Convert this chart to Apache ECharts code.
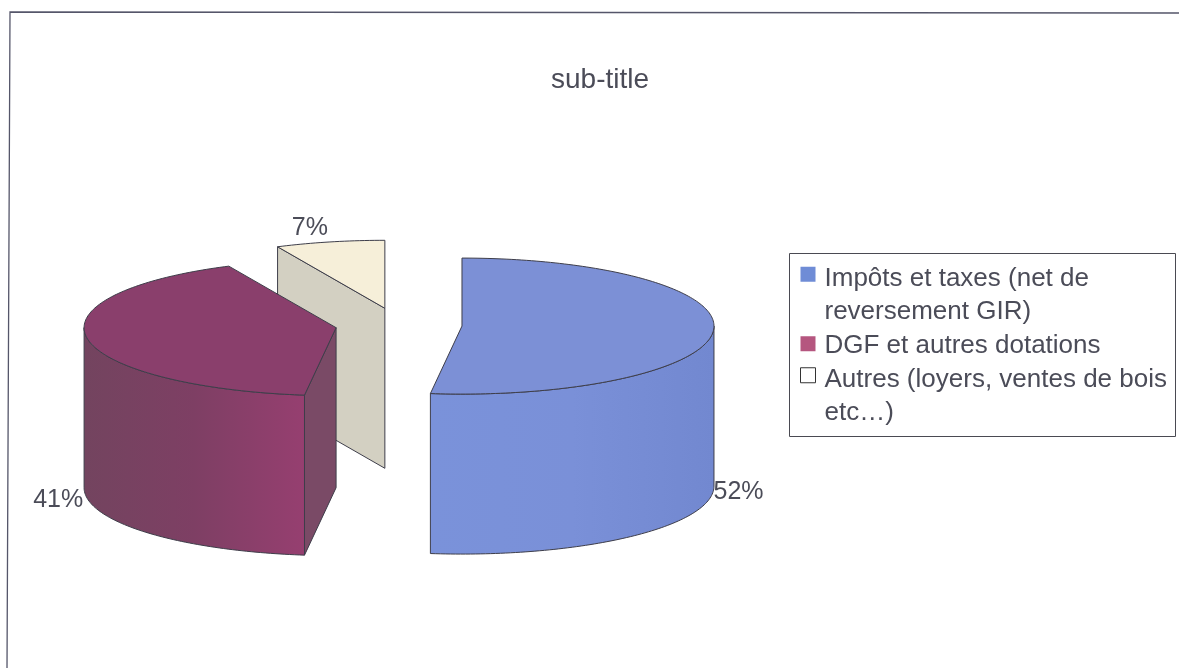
<!DOCTYPE html>
<html>
<head>
<meta charset="utf-8">
<style>html,body{margin:0;padding:0;background:#fff}#c{width:1179px;height:668px}</style>
<script src="https://cdn.jsdelivr.net/npm/echarts@6/dist/echarts.min.js"></script>
</head>
<body>
<div id="c"></div>
<script>
var titleText = 'sub-title';
var categories = ['Impôts et taxes (net de\nreversement GIR)', 'DGF et autres dotations', 'Autres (loyers, ventes de bois\netc…)'];
var values = [52, 41, 7];
var textColor = '#4b4c58';
var edgeColor = '#3e3e4a';
var legendColors = ['#6f8cd6', '#b5567f', '#ffffff'];
var topColors = ['#7c90d6', '#8a3f6c', '#f6efd9'];
var faceColors = ['#7c90d6', '#7a4a66', '#d3d0c2'];
var wallStops = [
  [[0, '#7a92da'], [0.5, '#7a90d8'], [1, '#7288d0']],
  [[0, '#73445f'], [0.5, '#7e3f64'], [1, '#963f70']],
  [[0, '#d3d0c2'], [1, '#d3d0c2']]
];

var PIE = { cx: 398.7, cy: 325, rx: 252, ry: 68, depth: 160, explode: 63.4 };
var total = values.reduce(function (s, v) { return s + v; }, 0);

function makeRender(index) {
  var before = values.slice(0, index).reduce(function (s, v) { return s + v; }, 0);
  return function (params, api) {
    var a0 = before / total * Math.PI * 2;
    var a1 = (before + api.value(0)) / total * Math.PI * 2;
    var mid = (a0 + a1) / 2;
    var cx = PIE.cx + PIE.explode * Math.sin(mid);
    var cy = PIE.cy - PIE.explode * Math.cos(mid) * PIE.ry / PIE.rx;
    function rim(t, dy) {
      return [cx + PIE.rx * Math.sin(t), cy - PIE.ry * Math.cos(t) + (dy || 0)];
    }
    function arc(from, to, dy) {
      var pts = [], n = Math.max(2, Math.ceil(Math.abs(to - from) / 0.02));
      for (var i = 0; i <= n; i++) pts.push(rim(from + (to - from) * i / n, dy));
      return pts;
    }
    var style = function (fill) {
      return { fill: fill, stroke: edgeColor, lineWidth: 1, lineJoin: 'round' };
    };
    var children = [];
    function face(t) {
      var p = rim(t);
      children.push({
        type: 'polygon',
        shape: { points: [[cx, cy], p, [p[0], p[1] + PIE.depth], [cx, cy + PIE.depth]] },
        style: style(faceColors[index])
      });
    }
    if (-Math.sin(a0) > 1e-6) face(a0);
    if (Math.sin(a1) > 1e-6) face(a1);
    var w0 = Math.max(a0, Math.PI / 2), w1 = Math.min(a1, Math.PI * 1.5);
    if (w1 > w0) {
      var pts = arc(w0, w1, 0).concat(arc(w1, w0, PIE.depth));
      var xs = pts.map(function (p) { return p[0]; });
      var x0 = Math.min.apply(null, xs), x1 = Math.max.apply(null, xs);
      children.push({
        type: 'polygon',
        shape: { points: pts },
        style: style({
          type: 'linear', global: true, x: x0, y: 0, x2: x1, y2: 0,
          colorStops: wallStops[index].map(function (s) { return { offset: s[0], color: s[1] }; })
        })
      });
    }
    children.push({
      type: 'polygon',
      shape: { points: [[cx, cy]].concat(arc(a0, a1, 0)) },
      style: style(topColors[index])
    });
    var anchor = rim(mid);
    var front = anchor[1] >= cy;
    var right = Math.sin(mid) > 0;
    children.push({
      type: 'text',
      style: {
        x: anchor[0] + (right ? 0 : (front ? -4 : -2)),
        y: front ? anchor[1] + PIE.depth + 2 : anchor[1] - 1,
        text: api.value(0) + '%',
        fill: textColor,
        font: '25px "Liberation Sans", Arial, sans-serif',
        align: right ? 'left' : 'right',
        verticalAlign: front ? 'middle' : 'bottom'
      }
    });
    return { type: 'group', children: children };
  };
}

// back-to-front painter's order
var drawOrder = [2, 1, 0];
var series = drawOrder.map(function (i) {
  return {
    type: 'custom',
    name: categories[i],
    coordinateSystem: 'none',
    silent: true,
    z: 2,
    itemStyle: { color: topColors[i] },
    data: [[values[i]]],
    renderItem: makeRender(i)
  };
});

// Legend swatch sits beside the first line of its label.
var LEGEND = { itemH: 70, swatch: 15, gapToText: 19, lineH: 33.5, pitch: 50.25 };
function legendIcon(name) {
  var lines = name.split('\n').length;
  var c = LEGEND.itemH / 2 - (lines - 1) * LEGEND.lineH / 2 - (lines > 1 ? 4.5 : 2);
  var s = LEGEND.swatch;
  return 'path://M0 0M0 ' + (c - s / 2) + 'H' + s + 'V' + (c + s / 2) + 'H0ZM' + LEGEND.gapToText + ' ' + LEGEND.itemH;
}

var chart = echarts.init(document.getElementById('c'), null, { renderer: 'canvas' });
chart.setOption({
  animation: false,
  backgroundColor: '#ffffff',
  title: {
    text: titleText,
    left: 551, top: 66, padding: 0,
    textStyle: { color: textColor, fontSize: 28, fontWeight: 'normal', fontFamily: '"Liberation Sans", Arial, sans-serif' }
  },
  legend: {
    orient: 'vertical',
    left: 800, top: 260.5, padding: 0,
    itemWidth: LEGEND.gapToText, itemHeight: LEGEND.itemH, itemGap: LEGEND.pitch - LEGEND.itemH,
    selectedMode: false,
    textStyle: {
      color: textColor, fontSize: 26, lineHeight: LEGEND.lineH,
      fontFamily: '"Liberation Sans", Arial, sans-serif'
    },
    data: categories.map(function (name, i) {
      return {
        name: name,
        icon: legendIcon(name),
        itemStyle: { color: legendColors[i], borderColor: i === 2 ? '#333' : 'transparent', borderWidth: i === 2 ? 1 : 0 }
      };
    })
  },
  graphic: [
    { type: 'polyline', silent: true, shape: { points: [[7, 668], [10, 12], [1179, 13]] }, style: { fill: 'none', stroke: '#55566a', lineWidth: 1.3 } },
    { type: 'rect', silent: true, z: 0, shape: { x: 789.5, y: 253.5, width: 386, height: 183 }, style: { fill: 'none', stroke: '#4a4a52', lineWidth: 1 } }
  ],
  series: series
});
</script>
</body>
</html>
